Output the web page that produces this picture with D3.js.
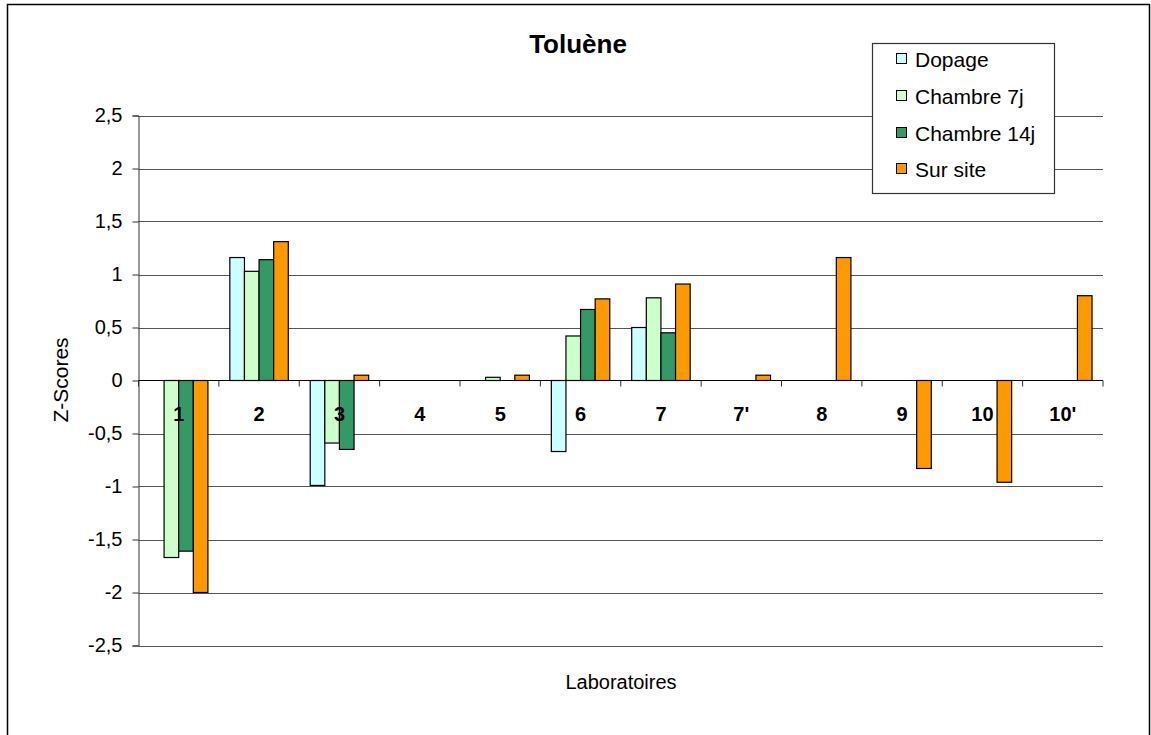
<!DOCTYPE html>
<html>
<head>
<meta charset="utf-8">
<script src="https://cdn.jsdelivr.net/npm/d3@7"></script>
<style>
  body { margin: 0; background: #fff; }
  svg { display: block; font-family: "Liberation Sans", Arial, sans-serif; }
</style>
</head>
<body>
<svg id="chart" width="1151" height="735"></svg>
<script>
const categories = ["1", "2", "3", "4", "5", "6", "7", "7'", "8", "9", "10", "10'"];
const seriesNames = ["Dopage", "Chambre 7j", "Chambre 14j", "Sur site"];
const dopage     = [null, 1.16, -0.99, null, null, -0.67, 0.50, null, null, null, null, null];
const chambre7j  = [-1.67, 1.03, -0.59, null, 0.03, 0.42, 0.78, null, null, null, null, null];
const chambre14j = [-1.61, 1.14, -0.65, null, null, 0.67, 0.45, null, null, null, null, null];
const surSite    = [-2.00, 1.31, 0.05, null, 0.05, 0.77, 0.91, 0.05, 1.16, -0.83, -0.96, 0.80];
const yTicks = [-2.5, -2, -1.5, -1, -0.5, 0, 0.5, 1, 1.5, 2, 2.5];
const colors = ["#CCFFFF", "#CCFFCC", "#339966", "#FF9900"];
const allSeries = [dopage, chambre7j, chambre14j, surSite];

const svg = d3.select("#chart");
const pLeft = 138.5, pRight = 1103, pTop = 115.5, pBottom = 645.5;

// outer frame
svg.append("rect").attr("x", 7.5).attr("y", 4.5).attr("width", 1142).attr("height", 760)
  .attr("fill", "#fff").attr("stroke", "#000").attr("stroke-width", 1.5);

const y = d3.scaleLinear().domain([-2.5, 2.5]).range([pBottom, pTop]);
const x = d3.scaleBand().domain(categories).range([pLeft, pRight]).padding(0);
const bw = x.bandwidth();
const groupW = bw * 4 / 5.5;
const x1 = d3.scaleBand().domain(seriesNames).range([0, groupW]).padding(0);
const offset = (bw - groupW) / 2;

// gridlines
svg.append("g").selectAll("line").data(yTicks.filter(t => t !== 0)).join("line")
  .attr("x1", pLeft).attr("x2", pRight)
  .attr("y1", d => Math.round(y(d)) + 0.5).attr("y2", d => Math.round(y(d)) + 0.5)
  .attr("stroke", "#555").attr("stroke-width", 1);

// y axis
const fmt = d => String(d).replace(".", ",");
const yAxis = svg.append("g").attr("transform", `translate(${pLeft},0)`)
  .call(d3.axisLeft(y).tickValues(yTicks).tickFormat(fmt).tickSize(6).tickPadding(10));
yAxis.select(".domain").attr("stroke", "#333");
yAxis.selectAll(".tick line").attr("stroke", "#333");
yAxis.selectAll("text").attr("font-size", 20).attr("fill", "#000")
  .attr("font-family", "'Liberation Sans', Arial, sans-serif");

// bars
const bars = svg.append("g");
seriesNames.forEach((s, si) => {
  const vals = allSeries[si];
  bars.selectAll(null).data(categories.map((c, i) => ({c, v: vals[i]})).filter(d => d.v !== null))
    .join("rect")
    .attr("x", d => x(d.c) + offset + x1(s))
    .attr("y", d => y(Math.max(0, d.v)))
    .attr("width", x1.bandwidth())
    .attr("height", d => Math.abs(y(d.v) - y(0)))
    .attr("fill", colors[si])
    .attr("stroke", "#000").attr("stroke-width", 1.2);
});

// x axis at zero
const xAxis = svg.append("g").attr("transform", `translate(0,${y(0)})`);
xAxis.append("line").attr("x1", pLeft).attr("x2", pRight).attr("y1", 0).attr("y2", 0)
  .attr("stroke", "#000").attr("stroke-width", 1.2);
const boundaries = categories.map(c => x(c)).concat([pRight]);
xAxis.selectAll("line.tk").data(boundaries).join("line").attr("class", "tk")
  .attr("x1", d => d).attr("x2", d => d).attr("y1", 0).attr("y2", 6)
  .attr("stroke", "#333");
xAxis.selectAll("text").data(categories).join("text")
  .attr("x", d => x(d) + bw / 2).attr("y", 40)
  .attr("text-anchor", "middle").attr("font-size", 20).attr("font-weight", "bold")
  .text(d => d);

// titles
svg.append("text").attr("x", 578).attr("y", 53).attr("text-anchor", "middle")
  .attr("font-size", 26).attr("font-weight", "bold").text("Toluène");
svg.append("text").attr("transform", "translate(68,380) rotate(-90)").attr("text-anchor", "middle")
  .attr("font-size", 21).text("Z-Scores");
svg.append("text").attr("x", 621).attr("y", 689).attr("text-anchor", "middle")
  .attr("font-size", 20).text("Laboratoires");

// legend
const lg = svg.append("g");
lg.append("rect").attr("x", 872.5).attr("y", 43.5).attr("width", 182).attr("height", 150)
  .attr("fill", "#fff").attr("stroke", "#333").attr("stroke-width", 1.2);
const rowsY = [67, 104, 141, 177];
seriesNames.forEach((s, i) => {
  lg.append("rect").attr("x", 896.5).attr("y", rowsY[i] - 13.5).attr("width", 10).attr("height", 10)
    .attr("fill", colors[i]).attr("stroke", "#000").attr("stroke-width", 1);
  lg.append("text").attr("x", 915).attr("y", rowsY[i]).attr("font-size", 21).text(s);
});
</script>
</body>
</html>
